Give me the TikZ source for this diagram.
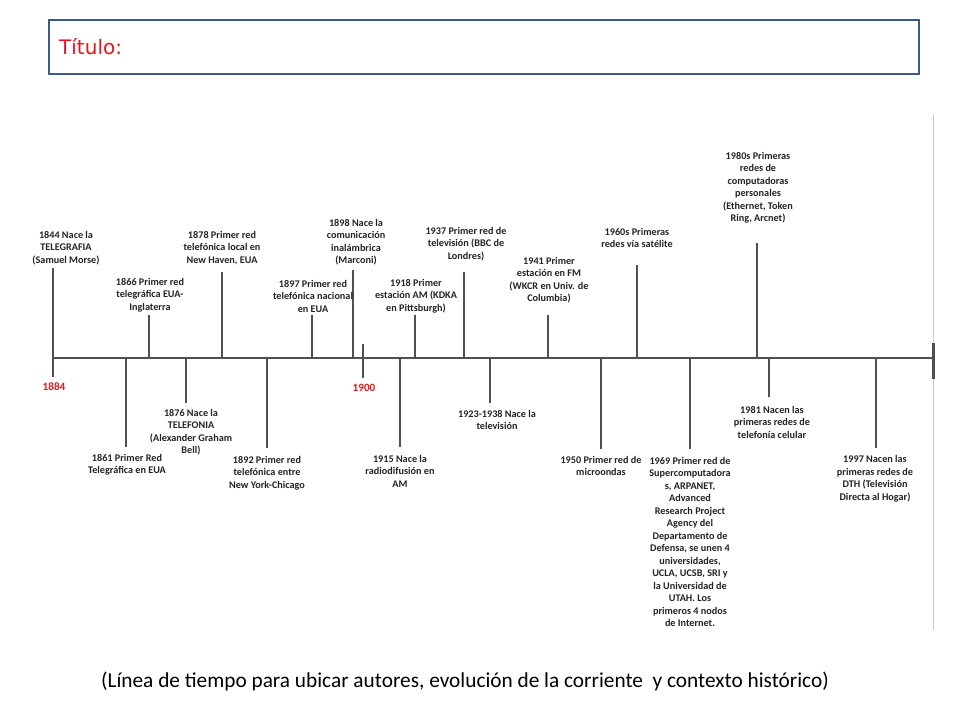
\documentclass[tikz,border=0pt]{standalone}
\usepackage{fontspec}
\setmainfont{Carlito}
\newfontfamily\titlefont{DejaVu Sans}
\definecolor{boxblue}{RGB}{56,93,138}
\definecolor{axisgray}{RGB}{80,80,80}
\definecolor{txtgray}{RGB}{35,35,35}
\definecolor{yearred}{RGB}{230,20,30}
\tikzset{
  evlabel/.style={align=center, inner sep=0pt, text=txtgray,
    font=\fontsize{10.2}{12.5}\selectfont\bfseries},
  evtick/.style={draw=axisgray, line width=2pt},
  axisline/.style={draw=axisgray, line width=2.6pt},
  yearlabel/.style={inner sep=0pt, text=yearred, font=\fontsize{11.2}{13}\selectfont\bfseries},
}
\begin{document}
\begin{tikzpicture}[x=1pt,y=-1pt]
\useasboundingbox (0,0) rectangle (960,720);
% title box
\node[draw=boxblue, line width=2.5pt, minimum width=870pt, minimum height=54pt, inner sep=0pt] (titlebox) at (484,47) {};
\node[anchor=west, inner sep=0pt, text=yearred, font=\titlefont\fontsize{20}{24}\selectfont] (titletext) at (59,47) {Título:};
% right thin gray line
\coordinate (gtop) at (933,115);
\coordinate (gbot) at (933,630);
\draw[black!22, line width=0.8pt] (gtop) -- (gbot);
% axis
\coordinate (axL) at (53,358);
\coordinate (axR) at (933,358);
\draw[axisline] (axL) -- (axR);
\coordinate (endT) at (933,343);
\coordinate (endB) at (933,379);
\draw[axisgray, line width=3pt] (endT) -- (endB);
% 1844 tick (crosses axis)
\coordinate (t1844) at (53,268);
\coordinate (b1844) at (53,377);
\draw[evtick] (t1844) -- (b1844);
% 1900 tick
\coordinate (t1900) at (363,344);
\coordinate (b1900) at (363,378);
\draw[evtick] (t1900) -- (b1900);
\node[yearlabel] (y1884) at (54,387) {1884};
\node[yearlabel] (y1900) at (364,388) {1900};

% events above
\foreach \nm/\x/\top in {1866/149/315, 1878/222/272, 1897/312/315, 1898/353/270, 1918/415/315, 1937/464/272, 1941/548/315, 1960/637/265, 1980/757/243}{
  \coordinate (a\nm) at (\x,358);
  \coordinate (e\nm) at (\x,\top);
  \draw[evtick] (a\nm) -- (e\nm);
}
% events below
\foreach \nm/\x/\bot in {1861/126/447, 1876/186/403, 1892/267/448, 1915/400/447, 1923/490/403, 1950/601/449, 1969/690/449, 1981/769/397, 1997/876/448}{
  \coordinate (a\nm) at (\x,358);
  \coordinate (e\nm) at (\x,\bot);
  \draw[evtick] (a\nm) -- (e\nm);
}

% labels above
\node[evlabel] (l1844) at (66,248) {1844 Nace la\\TELEGRAFIA\\(Samuel Morse)};
\node[evlabel] (l1866) at (150,295) {1866 Primer red\\telegráfica EUA-\\Inglaterra};
\node[evlabel] (l1878) at (222,248) {1878 Primer red\\telefónica local en\\New Haven, EUA};
\node[evlabel] (l1897) at (313,296) {1897 Primer red\\telefónica nacional\\en EUA};
\node[evlabel] (l1898) at (356,242) {1898 Nace la\\comunicación\\inalámbrica\\(Marconi)};
\node[evlabel] (l1918) at (416,296) {1918 Primer\\estación AM (KDKA\\en Pittsburgh)};
\node[evlabel] (l1937) at (466,244) {1937 Primer red de\\televisión (BBC de\\Londres)};
\node[evlabel] (l1941) at (549,280) {1941 Primer\\estación en FM\\(WKCR en Univ. de\\Columbia)};
\node[evlabel] (l1960) at (637,238) {1960s Primeras\\redes vía satélite};
\node[evlabel] (l1980) at (758,188) {1980s Primeras\\redes de\\computadoras\\personales\\(Ethernet, Token\\Ring, Arcnet)};

% labels below
\node[evlabel] (l1861) at (127,465) {1861 Primer Red\\Telegráfica en EUA};
\node[evlabel] (l1876) at (191,432) {1876 Nace la\\TELEFONIA\\(Alexander Graham\\Bell)};
\node[evlabel] (l1892) at (267,473) {1892 Primer red\\telefónica entre\\New York-Chicago};
\node[evlabel] (l1915) at (400,471) {1915 Nace la\\radiodifusión en\\AM};
\node[evlabel] (l1923) at (497,420) {1923-1938 Nace la\\televisión};
\node[evlabel] (l1950) at (601,466) {1950 Primer red de\\microondas};
\node[evlabel] (l1969) at (690,542) {1969 Primer red de\\Supercomputadora\\s, ARPANET,\\Advanced\\Research Project\\Agency del\\Departamento de\\Defensa, se unen 4\\universidades,\\UCLA, UCSB, SRI y\\la Universidad de\\UTAH. Los\\primeros 4 nodos\\de Internet.};
\node[evlabel] (l1981) at (772,422) {1981 Nacen las\\primeras redes de\\telefonía celular};
\node[evlabel] (l1997) at (875,479) {1997 Nacen las\\primeras redes de\\DTH (Televisión\\Directa al Hogar)};

% caption
\node[inner sep=0pt, text=black, font=\fontsize{21.3}{25}\selectfont] (caption) at (465,681) {(Línea de tiempo para ubicar autores, evolución de la corriente \ y contexto histórico)};
\end{tikzpicture}
\end{document}
